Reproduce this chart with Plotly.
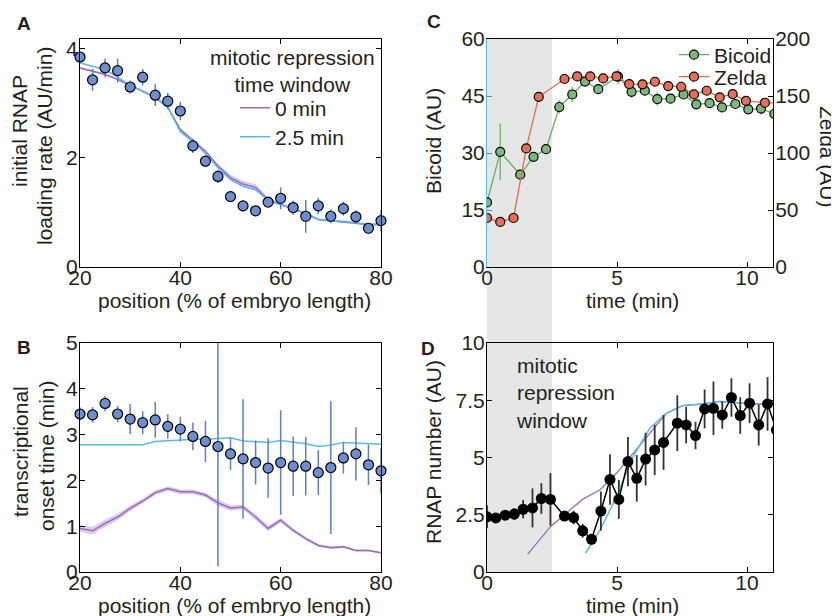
import plotly.graph_objects as go

# the page body keeps the browser's default 8px margin, so the figure is laid
# out in picture pixels shifted by that offset
OFF = 8
W, H = 839 - OFF, 616 - OFF
FONT = "Liberation Sans, Arial, sans-serif"
INK = "#231f20"
FS = 21

PURPLE = "#9a6bbf"
PURPLE_BAND = "rgba(154,107,191,0.35)"
LBLUE = "#5cb8ea"
PT_BLUE = "#6d8fd0"
ERR_BLUE = "#5a7fcc"
GREEN = "#7cb87a"
GREEN_LINE = "#6aab68"
RED = "#e5705a"
RED_LINE = "#e06a52"
SHADE = "#e4e7e6"

# ---- A / B: along the embryo ----
position = [20, 22.5, 25, 27.5, 30, 32.5, 35, 37.5, 40, 42.5, 45, 47.5, 50,
            52.5, 55, 57.5, 60, 62.5, 65, 67.5, 70, 72.5, 75, 77.5, 80]

load_rate = [3.85, 3.43, 3.65, 3.60, 3.30, 3.48, 3.15, 3.04, 2.86, 2.22, 1.94, 1.66, 1.29,
             1.12, 1.03, 1.19, 1.26, 1.09, 0.93, 1.12, 0.93, 1.07, 0.92, 0.71, 0.85]
load_rate_err = [0.10, 0.20, 0.17, 0.22, 0.12, 0.15, 0.20, 0.15, 0.17, 0.13, 0.10, 0.12, 0.10,
                 0.10, 0.08, 0.08, 0.20, 0.13, 0.30, 0.15, 0.13, 0.13, 0.12, 0.08, 0.20]
load_fit_0 = [3.65, 3.59, 3.53, 3.44, 3.33, 3.23, 3.11, 2.93, 2.52, 2.32, 2.12, 1.85, 1.64,
              1.52, 1.46, 1.23, 1.15, 1.07, 0.98, 0.87, 0.85, 0.83, 0.80, 0.78, 0.78]
load_fit_0_err = [0.02, 0.02, 0.02, 0.02, 0.02, 0.02, 0.02, 0.03, 0.03, 0.03, 0.03, 0.04, 0.05,
                  0.06, 0.06, 0.04, 0.03, 0.02, 0.02, 0.02, 0.02, 0.02, 0.02, 0.02, 0.02]
load_fit_25 = [3.74, 3.68, 3.62, 3.48, 3.33, 3.23, 3.11, 2.93, 2.48, 2.30, 2.08, 1.82, 1.60,
               1.48, 1.42, 1.22, 1.15, 1.07, 0.98, 0.87, 0.85, 0.84, 0.81, 0.78, 0.78]

onset = [3.45, 3.43, 3.68, 3.45, 3.34, 3.26, 3.32, 3.18, 3.12, 2.96, 2.85, 2.74, 2.58,
         2.47, 2.39, 2.27, 2.39, 2.31, 2.31, 2.17, 2.28, 2.49, 2.58, 2.34, 2.21]
onset_err = [0.14, 0.17, 0.17, 0.18, 0.33, 0.25, 0.39, 0.27, 0.27, 0.30, 0.45, 2.62, 0.35,
             1.30, 0.48, 0.65, 1.14, 0.65, 0.64, 0.49, 1.45, 0.34, 0.58, 0.44, 0.50]
onset_fit_0 = [0.95, 0.90, 1.06, 1.20, 1.39, 1.55, 1.73, 1.82, 1.75, 1.75, 1.68, 1.51, 1.40,
               1.42, 1.20, 0.95, 1.13, 0.91, 0.73, 0.58, 0.53, 0.55, 0.47, 0.47, 0.42]
onset_fit_0_err = [0.07, 0.08, 0.08, 0.07, 0.06, 0.05, 0.05, 0.05, 0.05, 0.05, 0.05, 0.07, 0.06,
                   0.05, 0.06, 0.06, 0.05, 0.04, 0.04, 0.03, 0.03, 0.03, 0.02, 0.02, 0.02]
onset_fit_25 = [2.78, 2.78, 2.77, 2.77, 2.77, 2.78, 2.85, 2.87, 2.88, 2.90, 2.90, 2.92, 2.93,
                2.86, 2.84, 2.83, 2.87, 2.83, 2.80, 2.74, 2.77, 2.83, 2.82, 2.80, 2.79]

# ---- C: input transcription factors ----
bcd_t = [0, 0.51, 1.28, 1.79, 2.27, 2.78, 3.28, 3.77, 4.28, 5.04, 5.56, 6.07, 6.55,
         7.06, 7.56, 8.05, 8.56, 9.04, 9.55, 10.05, 10.54, 11.05]
bcd = [17.0, 30.3, 24.3, 29.0, 31.0, 42.1, 45.4, 48.8, 46.8, 50.1, 46.1, 46.4, 44.2,
       44.3, 45.4, 42.8, 43.1, 42.0, 42.9, 41.5, 41.7, 40.3]
bcd_err = [1.0, 7.5, 1.0, 1.2, 1.0, 1.8, 2.0, 1.2, 1.2, 2.0, 1.5, 1.2, 1.8,
           1.0, 1.2, 1.0, 1.0, 1.2, 1.0, 1.0, 1.5, 1.0]

zld_t = [0, 0.51, 1.02, 1.51, 1.99, 2.98, 3.47, 3.97, 4.47, 4.98, 5.47, 5.98, 6.46,
         6.97, 7.47, 7.96, 8.45, 8.95, 9.45, 9.96, 10.69, 11.2]
zld = [43.0, 39.5, 43.0, 104.0, 149.3, 164.9, 167.2, 167.2, 165.4, 167.2, 160.5, 160.2, 162.5,
       158.7, 158.1, 151.4, 154.6, 148.8, 151.7, 145.8, 144.1, 144.0]
zld_err = [1.5, 1.5, 1.5, 2.0, 2.0, 2.0, 2.0, 3.0, 2.0, 3.0, 2.0, 2.0, 2.0,
           2.0, 2.0, 2.0, 2.0, 2.0, 3.0, 2.0, 2.0, 2.0]

# ---- D: RNAP loading ----
rnap_t = [0, 0.34, 0.70, 1.05, 1.39, 1.75, 2.09, 2.44, 2.98, 3.33, 3.68, 4.02, 4.38, 4.73,
          5.07, 5.42, 5.76, 6.10, 6.45, 6.79, 7.32, 7.66, 8.02, 8.37, 8.71, 9.05, 9.40,
          9.74, 10.10, 10.45, 10.79, 11.13]
rnap = [2.41, 2.36, 2.48, 2.53, 2.74, 2.80, 3.21, 3.17, 2.44, 2.38, 1.80, 1.43, 2.66, 4.04,
        3.17, 4.82, 4.09, 4.93, 5.33, 5.66, 6.50, 6.42, 5.96, 7.12, 7.15, 6.86, 7.62,
        6.83, 7.37, 6.42, 7.34, 6.20]
rnap_err = [0.50, 0.20, 0.15, 0.25, 0.40, 0.85, 0.67, 1.15, 0.20, 0.30, 0.30, 0.20, 0.85, 1.10,
            0.85, 1.08, 1.02, 1.15, 1.10, 1.20, 1.22, 0.80, 0.60, 0.85, 1.17, 0.60, 0.84,
            0.80, 0.87, 0.90, 1.17, 1.00]

model0_t = [1.56, 2.43, 3.67, 4.34, 4.98, 5.62, 6.26, 6.90, 7.53, 8.30, 8.94, 9.58, 10.2, 11.0]
model0 = [0.77, 1.97, 3.17, 3.58, 4.31, 5.18, 6.10, 6.93, 7.27, 7.34, 7.45, 7.40, 7.34, 7.34]
model25_t = [3.79, 4.34, 4.98, 5.62, 6.26, 6.90, 7.53, 8.30, 8.94, 9.58, 10.2, 11.0]
model25 = [0.83, 1.82, 3.28, 5.04, 6.28, 6.93, 7.27, 7.34, 7.45, 7.40, 7.34, 7.34]


def px_x(p):
    return (p - OFF) / W


def px_y(p):
    return 1 - (p - OFF) / H


def frame(**kw):
    base = dict(showline=True, linecolor="black", linewidth=1, mirror="ticks",
                ticks="inside", ticklen=5, tickcolor="black", showgrid=False,
                zeroline=False, automargin=False, tickfont=dict(size=FS, color=INK))
    base.update(kw)
    return base


def xframe(**kw):
    return frame(ticklabelstandoff=-8, **kw)


def yframe(**kw):
    return frame(ticklabelstandoff=-3, **kw)


def band(x, y, err, color, xa, ya):
    lo = [a - e for a, e in zip(y, err)]
    hi = [a + e for a, e in zip(y, err)]
    return [
        go.Scatter(x=x, y=lo, mode="lines", line=dict(width=0), showlegend=False,
                   hoverinfo="skip", xaxis=xa, yaxis=ya),
        go.Scatter(x=x, y=hi, mode="lines", line=dict(width=0), fill="tonexty",
                   fillcolor=color, showlegend=False, hoverinfo="skip", xaxis=xa, yaxis=ya),
    ]


def legend_box(left, mid):
    return dict(x=px_x(left), xanchor="left", y=px_y(mid), yanchor="middle",
                bgcolor="rgba(0,0,0,0)", font=dict(size=FS, color=INK, family=FONT),
                itemwidth=30)


fig = go.Figure()

# A
for tr in band(position, load_fit_0, load_fit_0_err, PURPLE_BAND, "x", "y"):
    fig.add_trace(tr)
fig.add_trace(go.Scatter(x=position, y=load_fit_0, mode="lines", name="0 min", legend="legend",
                         line=dict(color=PURPLE, width=1.5), xaxis="x", yaxis="y"))
fig.add_trace(go.Scatter(x=position, y=load_fit_25, mode="lines", name="2.5 min", legend="legend2",
                         line=dict(color=LBLUE, width=1.5), xaxis="x", yaxis="y"))
fig.add_trace(go.Scatter(
    x=position, y=load_rate, mode="markers", showlegend=False, cliponaxis=False,
    error_y=dict(type="data", array=load_rate_err, color=ERR_BLUE, thickness=1.5, width=0),
    marker=dict(size=10, color=PT_BLUE, line=dict(color="black", width=1.2)),
    xaxis="x", yaxis="y"))

# B
for tr in band(position, onset_fit_0, onset_fit_0_err, PURPLE_BAND, "x2", "y2"):
    fig.add_trace(tr)
fig.add_trace(go.Scatter(x=position, y=onset_fit_0, mode="lines", showlegend=False,
                         line=dict(color=PURPLE, width=1.5), xaxis="x2", yaxis="y2"))
fig.add_trace(go.Scatter(x=position, y=onset_fit_25, mode="lines", showlegend=False,
                         line=dict(color=LBLUE, width=1.5), xaxis="x2", yaxis="y2"))
fig.add_trace(go.Scatter(
    x=position, y=onset, mode="markers", showlegend=False, cliponaxis=False,
    error_y=dict(type="data", array=onset_err, color=ERR_BLUE, thickness=1.5, width=0),
    marker=dict(size=10, color=PT_BLUE, line=dict(color="black", width=1.2)),
    xaxis="x2", yaxis="y2"))

# C
fig.add_trace(go.Scatter(
    x=bcd_t, y=bcd, mode="lines+markers", name="Bicoid", legend="legend3",
    line=dict(color=GREEN_LINE, width=1.3),
    error_y=dict(type="data", array=bcd_err, color=GREEN, thickness=1.5, width=0),
    marker=dict(size=9, color=GREEN, line=dict(color="black", width=1.2)),
    xaxis="x3", yaxis="y3"))
fig.add_trace(go.Scatter(
    x=zld_t, y=zld, mode="lines+markers", name="Zelda", legend="legend4",
    line=dict(color=RED_LINE, width=1.3),
    error_y=dict(type="data", array=zld_err, color=RED, thickness=1.5, width=0),
    marker=dict(size=9, color=RED, line=dict(color="black", width=1.2)),
    xaxis="x3", yaxis="y4"))

# D
fig.add_trace(go.Scatter(x=model0_t, y=model0, mode="lines", showlegend=False,
                         line=dict(color=PURPLE, width=1.3), xaxis="x4", yaxis="y5"))
fig.add_trace(go.Scatter(x=model25_t, y=model25, mode="lines", showlegend=False,
                         line=dict(color=LBLUE, width=1.5), xaxis="x4", yaxis="y5"))
fig.add_trace(go.Scatter(
    x=rnap_t, y=rnap, mode="lines+markers", showlegend=False,
    line=dict(color="black", width=1.5),
    error_y=dict(type="data", array=rnap_err, color="#333333", thickness=1.8, width=0),
    marker=dict(size=11, color="black"),
    xaxis="x4", yaxis="y5"))

left_dom = [px_x(80), px_x(381)]
right_dom = [px_x(487), px_x(773)]
top_dom = [px_y(267), px_y(39)]
bot_dom = [px_y(572), px_y(343)]

fig.update_layout(
    template="none",
    width=W, height=H,
    margin=dict(l=0, r=0, t=0, b=0, pad=0, autoexpand=False),
    paper_bgcolor="white", plot_bgcolor="rgba(0,0,0,0)",
    font=dict(family=FONT, size=FS, color=INK),
    xaxis=xframe(domain=left_dom, anchor="y", range=[20, 80], tickvals=[20, 40, 60, 80]),
    yaxis=yframe(domain=top_dom, anchor="x", range=[0, 4.18], tickvals=[0, 2, 4]),
    xaxis2=xframe(domain=left_dom, anchor="y2", range=[20, 80], tickvals=[20, 40, 60, 80]),
    yaxis2=yframe(domain=bot_dom, anchor="x2", range=[0, 5], tickvals=[0, 1, 2, 3, 4, 5]),
    xaxis3=xframe(domain=right_dom, anchor="y3", range=[0, 11], tickvals=[0, 5, 10]),
    yaxis3=yframe(domain=top_dom, anchor="x3", range=[0, 60], tickvals=[0, 15, 30, 45, 60],
                  mirror=False, linecolor=LBLUE, tickcolor="#3d8fd6"),
    yaxis4=yframe(domain=top_dom, anchor="x3", overlaying="y3", side="right",
                  range=[0, 200], tickvals=[0, 50, 100, 150, 200], mirror=False),
    xaxis4=xframe(domain=right_dom, anchor="y5", range=[0, 11], tickvals=[0, 5, 10]),
    yaxis5=yframe(domain=bot_dom, anchor="x4", range=[0, 10], tickvals=[0, 2.5, 5, 7.5, 10],
                  ticktext=["0", "2.5", "5", "7.5", "10"]),
    legend=legend_box(235, 108),
    legend2=legend_box(235, 137),
    legend3=legend_box(674, 55),
    legend4=legend_box(674, 77),
    shapes=[
        dict(type="rect", xref="x3", yref="paper", x0=0, x1=2.5,
             y0=px_y(572), y1=px_y(39), fillcolor=SHADE, line=dict(width=0), layer="below"),
    ],
)

annots = [
    # panel letters
    ("<b>A</b>", 24, 24, 0, 19),
    ("<b>B</b>", 24, 347, 0, 19),
    ("<b>C</b>", 434, 22, 0, 19),
    ("<b>D</b>", 428, 348, 0, 19),
    # axis titles
    ("initial RNAP", 20, 131, -90, FS),
    ("loading rate (AU/min)", 44, 146, -90, FS),
    ("position (% of embryo length)", 234, 300, 0, FS),
    ("transcriptional", 20, 452, -90, FS),
    ("onset time (min)", 46, 456, -90, FS),
    ("position (% of embryo length)", 234, 605, 0, FS),
    ("Bicoid (AU)", 433, 141, -90, FS),
    ("Zelda (AU)", 827, 157, 90, FS),
    ("time (min)", 632, 300, 0, FS),
    ("RNAP number (AU)", 433, 452, -90, FS),
    ("time (min)", 632, 605, 0, FS),
    # legend heading of panel A
    ("mitotic repression<br>time window", 292, 71, 0, FS),
]
for text, xx, yy, ang, size in annots:
    fig.add_annotation(text=text, x=px_x(xx), y=px_y(yy), xref="paper", yref="paper",
                       showarrow=False, textangle=ang, xanchor="center", yanchor="middle",
                       font=dict(size=size, color=INK, family=FONT))

fig.add_annotation(text="mitotic<br>repression<br>window", x=px_x(514), y=px_y(393),
                   xref="paper", yref="paper", showarrow=False, align="left",
                   xanchor="left", yanchor="middle",
                   font=dict(size=FS, color=INK, family=FONT))

fig.write_html("out.html")
